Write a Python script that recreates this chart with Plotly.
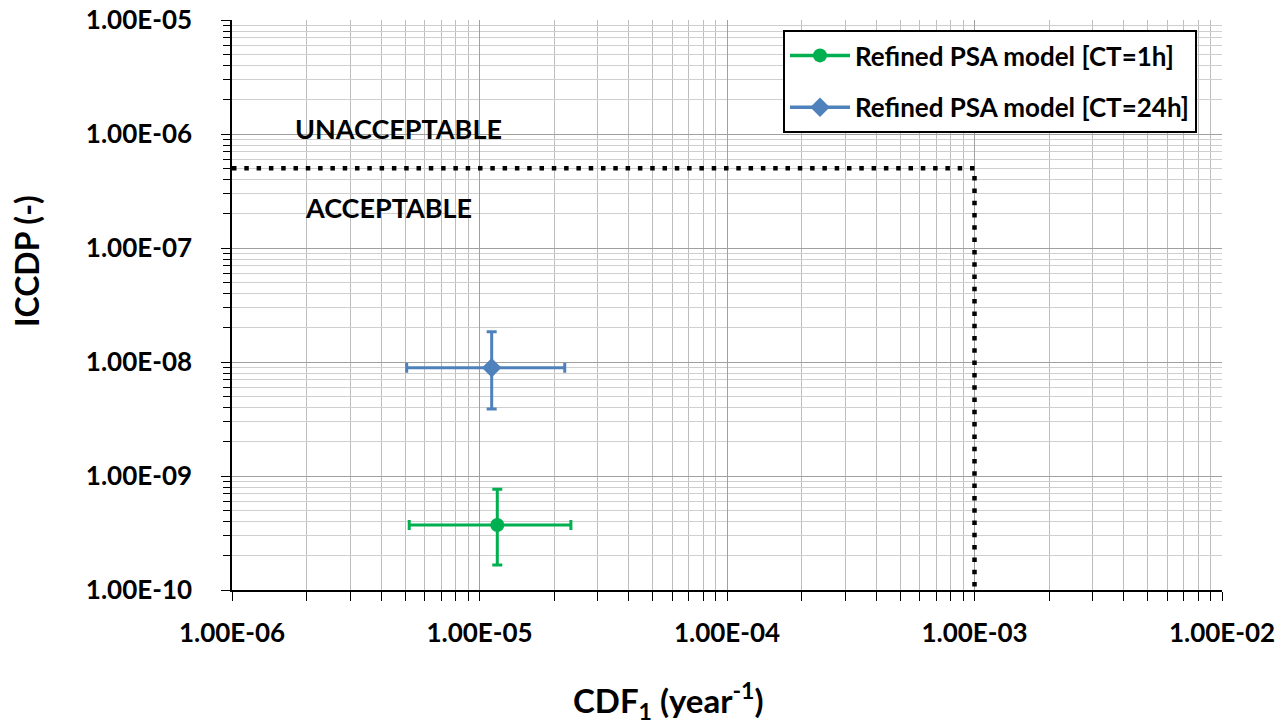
import plotly.graph_objects as go

# ---- data ----
series_names = ["Refined PSA model [CT=1h]", "Refined PSA model [CT=24h]"]
cdf_values = [1.18e-5, 1.12e-5]
cdf_low = [5.2e-6, 5.08e-6]
cdf_high = [2.34e-5, 2.21e-5]
iccdp_values = [3.72e-10, 8.9e-9]
iccdp_low = [1.66e-10, 3.87e-9]
iccdp_high = [7.64e-10, 1.84e-8]
series_colors = ["#00b050", "#4f81bd"]
series_symbols = ["circle", "diamond"]
series_sizes = [14, 15]

limit_x = [1e-6, 1e-3, 1e-3]
limit_y = [5e-7, 5e-7, 1e-10]

x_tickvals = [1e-6, 1e-5, 1e-4, 1e-3, 1e-2]
x_ticktext = ["1.00E-06", "1.00E-05", "1.00E-04", "1.00E-03", "1.00E-02"]
y_tickvals = [1e-10, 1e-9, 1e-8, 1e-7, 1e-6, 1e-5]
y_ticktext = ["1.00E-10", "1.00E-09", "1.00E-08", "1.00E-07", "1.00E-06", "1.00E-05"]

FONT = "Lato"

def minor_vals(lo, hi):
    vals = []
    for e in range(lo, hi):
        for m in range(2, 10):
            vals.append(m * 10.0 ** e)
    return vals

fig = go.Figure()

fig.add_trace(go.Scatter(
    x=limit_x, y=limit_y, mode="lines",
    line=dict(color="black", width=4.5, dash="4.5px,7.8px"),
    showlegend=False, hoverinfo="skip"))

for i, name in enumerate(series_names):
    fig.add_trace(go.Scatter(
        x=[cdf_values[i]], y=[iccdp_values[i]],
        mode="lines+markers", name=name, legendgroup="g%d" % i,
        line=dict(color=series_colors[i], width=3.5),
        marker=dict(color=series_colors[i], symbol=series_symbols[i], size=series_sizes[i]),
        error_x=dict(type="data", symmetric=False,
                     array=[cdf_high[i] - cdf_values[i]],
                     arrayminus=[cdf_values[i] - cdf_low[i]],
                     color=series_colors[i], thickness=3, width=5),
        error_y=dict(type="data", symmetric=False,
                     array=[iccdp_high[i] - iccdp_values[i]],
                     arrayminus=[iccdp_values[i] - iccdp_low[i]],
                     color=series_colors[i], thickness=3, width=5),
    ))

axis_common = dict(
    type="log", showline=True, linecolor="black", linewidth=1.5, automargin=False,
    ticks="outside", ticklen=9, tickcolor="black", tickwidth=1.2,
    showgrid=True, gridcolor="#a0a0a0", gridwidth=1, zeroline=False,
    tickfont=dict(family=FONT, size=26, color="black", weight="bold"),
)

fig.update_xaxes(
    range=[-6, -2], tickmode="array", tickvals=x_tickvals, ticktext=x_ticktext,
    minor=dict(tickmode="array", tickvals=minor_vals(-6, -2), ticks="outside",
               ticklen=9, tickcolor="black", showgrid=True, gridcolor="#bdbdbd", gridwidth=1),
    ticklabelstandoff=10,
    **axis_common)
fig.update_yaxes(
    range=[-10, -5], tickmode="array", tickvals=y_tickvals, ticktext=y_ticktext,
    minor=dict(tickmode="array", tickvals=minor_vals(-10, -5), ticks="outside",
               ticklen=7, tickcolor="black", showgrid=True, gridcolor="#cfcfcf", gridwidth=1),
    ticklabelstandoff=24,
    **axis_common)

def px_x(p):
    return (p - 232) / 990

def px_y(p):
    return (590 - p) / 570

ann_common = dict(xref="paper", yref="paper", showarrow=False,
                  xanchor="center", yanchor="middle")
fig.add_annotation(text="UNACCEPTABLE", x=px_x(398), y=px_y(128),
                   font=dict(family=FONT, size=27, color="black", weight="bold"), **ann_common)
fig.add_annotation(text="ACCEPTABLE", x=px_x(388), y=px_y(207),
                   font=dict(family=FONT, size=27, color="black", weight="bold"), **ann_common)
fig.add_annotation(text="ICCDP (-)", x=px_x(26), y=px_y(261), textangle=-90,
                   font=dict(family=FONT, size=32, color="black", weight="bold"), **ann_common)
fig.add_annotation(text="CDF<sub>1</sub> (year<sup>-1</sup>)", x=px_x(668), y=px_y(700),
                   font=dict(family=FONT, size=33, color="black", weight="bold"), **ann_common)

fig.update_layout(
    width=1285, height=724,
    margin=dict(l=232, r=63, t=20, b=134),
    plot_bgcolor="white", paper_bgcolor="white",
    legend=dict(x=px_x(783), y=px_y(30), xanchor="left", yanchor="top",
                bgcolor="white", bordercolor="black", borderwidth=2,
                font=dict(family=FONT, size=26, color="black", weight="bold"),
                itemwidth=60, tracegroupgap=15, traceorder="grouped"),
)

fig.write_html("out.html")
